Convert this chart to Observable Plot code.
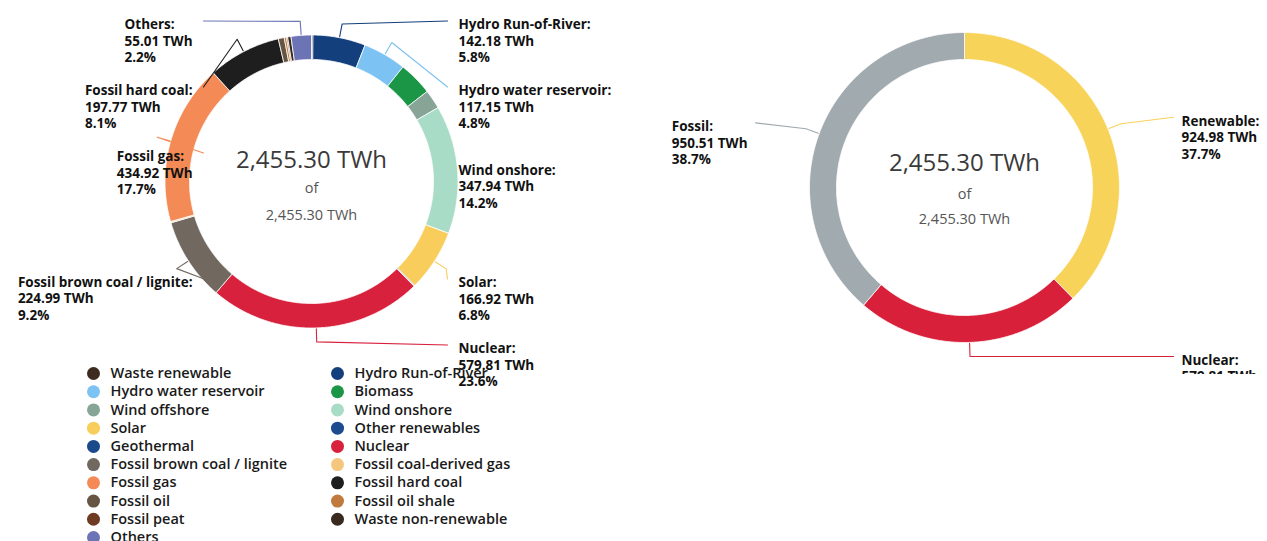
<!DOCTYPE html>
<html>
<head>
<meta charset="utf-8">
<script src="https://cdn.jsdelivr.net/npm/d3@7"></script>
<script src="https://cdn.jsdelivr.net/npm/@observablehq/plot@0.6"></script>
<style>
  body { margin: 0; background: #fff; }
  #root { position: relative; width: 1267px; height: 541px; overflow: hidden; background: #fff; }
  .panel { position: absolute; overflow: hidden; }
</style>
</head>
<body>
<div id="root"></div>
<script>
// ---------- DATA ----------
const categories = [
  "Waste renewable", "Hydro Run-of-River", "Hydro water reservoir", "Biomass",
  "Wind offshore", "Wind onshore", "Solar", "Other renewables", "Geothermal",
  "Nuclear", "Fossil brown coal / lignite", "Fossil coal-derived gas", "Fossil gas",
  "Fossil hard coal", "Fossil oil", "Fossil oil shale", "Fossil peat",
  "Waste non-renewable", "Others"
];
const values = [
  4.00, 142.18, 117.15, 92.00,
  52.00, 347.94, 166.92, 1.50, 1.29,
  579.81, 224.99, 3.50, 434.92,
  197.77, 16.00, 6.00, 3.30,
  9.02, 55.01
];
const colors = [
  "#3d2b1f", "#143f7d", "#7cc2f2", "#1b9647",
  "#87a597", "#a9dcc6", "#f8cd5c", "#1d4b8f", "#1a4a8c",
  "#d8213c", "#716960", "#f5c77e", "#f48a55",
  "#1e1e1e", "#675544", "#c07a3e", "#6e3b22",
  "#3a2a1e", "#6d74b6"
];
const labeledCategories = [
  "Hydro Run-of-River", "Hydro water reservoir", "Wind onshore", "Solar", "Nuclear",
  "Fossil brown coal / lignite", "Fossil gas", "Fossil hard coal", "Others"
];
const groups = ["Renewable", "Nuclear", "Fossil"];
const groupValues = [924.98, 579.81, 950.51];
const groupColors = ["#f8d35a", "#d9203a", "#a1aaae"];
const unit = "TWh";

// ---------- HELPERS ----------
const LABEL_SIZE = 13.5;
const LINE_PX = 16.5;
const LABEL_FONT = `bold ${LABEL_SIZE}px 'Open Sans'`;
const fmt2 = d3.format(",.2f");
const fmtPct = v => (Math.round(v * 10) / 10).toFixed(1);
const ctx = document.createElement("canvas").getContext("2d");
function textWidth(s, font) { ctx.font = font; return ctx.measureText(s).width; }
const rad = a => a * Math.PI / 180;
const pt = (a, r) => ({x: r * Math.sin(rad(a)), y: -r * Math.cos(rad(a))});

function donut(cfg) {
  const {names, vals, cols, labeled, width, height, cx, cy, R, inner, labelR,
         rightLabelX, leftLabelEdge, lineGap, centerDy, bigSize} = cfg;
  const total = d3.sum(vals);
  let acc = 0;
  const segs = names.map((n, i) => {
    const a0 = acc / total * 360; acc += vals[i]; const a1 = acc / total * 360;
    return {name: n, value: vals[i], color: cols[i], a0, a1, mid: (a0 + a1) / 2};
  });

  // ring polygons
  const ring = segs.flatMap(s => {
    const n = Math.max(2, Math.ceil((s.a1 - s.a0) / 0.5));
    const outer = d3.range(n + 1).map(k => ({...pt(s.a0 + (s.a1 - s.a0) * k / n, R), name: s.name, color: s.color}));
    const inn = d3.range(n, -1, -1).map(k => ({...pt(s.a0 + (s.a1 - s.a0) * k / n, inner), name: s.name, color: s.color}));
    return [...outer, ...inn, outer[0]];
  });

  // labels with simple collision avoidance
  const elbowR = R + 14;
  const lab = segs.filter(s => labeled.includes(s.name)).map(s => ({
    ...s, side: s.mid < 180 ? "right" : "left",
    ey: Math.max(-elbowR, Math.min(elbowR, pt(s.mid, labelR).y))
  }));
  const gap = 4 * LINE_PX;
  for (const side of ["right", "left"]) {
    const arr = lab.filter(d => d.side === side).sort((a, b) => a.ey - b.ey);
    let prev = -Infinity;
    for (const d of arr) { d.ly = Math.max(d.ey, prev + gap); prev = d.ly; }
  }
  const labels = lab.map(d => {
    const lines = [`${d.name}:`, `${fmt2(d.value)} ${unit}`, `${fmtPct(d.value / total * 100)}%`];
    const w = d3.max(lines, l => textWidth(l, LABEL_FONT));
    return {x: d.side === "right" ? rightLabelX : leftLabelEdge - w, y: d.ly - 3.4, text: lines.join("\n")};
  });
  const leaders = lab.flatMap(d => {
    const endX = d.side === "right" ? rightLabelX - lineGap : leftLabelEdge + lineGap;
    const p0 = pt(d.mid, R + 1), p1 = pt(d.mid, elbowR);
    if (d.side === "right" && p1.x > endX) return [];
    return [p0, p1, {x: endX, y: d.ly}].map(p => ({...p, name: d.name, color: d.color}));
  });

  const tot = [total];
  return Plot.plot({
    width, height,
    margin: 0,
    x: {domain: [-cx, width - cx], range: [0, width], axis: null},
    y: {domain: [-cy, height - cy], range: [0, height], axis: null},
    color: {type: "identity"},
    style: {fontFamily: "'Open Sans', sans-serif", background: "transparent", overflow: "visible"},
    marks: [
      Plot.line(ring, {x: "x", y: "y", z: "name", fill: "color", stroke: "#fff", strokeWidth: 0.8, curve: "linear"}),
      Plot.line(leaders, {x: "x", y: "y", z: "name", stroke: "color", strokeWidth: 1.1, curve: "linear"}),
      Plot.text(labels, {x: "x", y: "y", text: "text", textAnchor: "start", lineAnchor: "top",
        lineHeight: LINE_PX / LABEL_SIZE, fontSize: LABEL_SIZE, fontWeight: "bold", fill: "#111"}),
      Plot.text(tot, {x: () => 0, y: () => 0, dy: centerDy[0], text: d => `${fmt2(d)} ${unit}`,
        fontSize: bigSize, fontWeight: 400, fill: "#3a3a3a", lineAnchor: "middle"}),
      Plot.text(tot, {x: () => 0, y: () => 0, dy: centerDy[1], text: () => "of",
        fontSize: 14.5, fill: "#555", lineAnchor: "middle"}),
      Plot.text(tot, {x: () => 0, y: () => 0, dy: centerDy[2], text: d => `${fmt2(d)} ${unit}`,
        fontSize: 14.5, fill: "#555", lineAnchor: "middle"})
    ]
  });
}

const root = document.getElementById("root");
function place(node, left, top, w, h) {
  const div = document.createElement("div");
  div.className = "panel";
  Object.assign(div.style, {left: left + "px", top: top + "px", width: w + "px", height: h + "px"});
  div.appendChild(node);
  root.appendChild(div);
}

// Left donut
place(donut({
  names: categories, vals: values, cols: colors, labeled: labeledCategories,
  width: 640, height: 400, cx: 311, cy: 181, R: 146.5, inner: 122, labelR: 179,
  rightLabelX: 147, leftLabelEdge: -119, lineGap: 11, centerDy: [-21, 7, 34], bigSize: 24
}), 0, 0, 640, 400);

// Legend
const legendData = categories.map((name, i) => ({name, color: colors[i], col: i % 2, row: Math.floor(i / 2)}));
place(Plot.plot({
  width: 640, height: 186, margin: 0,
  x: {type: "linear", domain: [0, 1], range: [93, 337], axis: null},
  y: {type: "linear", domain: [0, 9], range: [18, 182], axis: null},
  color: {type: "identity"},
  style: {fontFamily: "'Open Sans', sans-serif", background: "transparent"},
  marks: [
    Plot.dot(legendData, {x: "col", y: "row", r: 6.5, fill: "color"}),
    Plot.text(legendData, {x: "col", y: "row", text: "name", dx: 17, textAnchor: "start",
      fontSize: 14.5, fontWeight: 600, fill: "#1a1a1a"})
  ]
}), 0, 355, 640, 186);

// Right donut (panel clipped at the bottom as in the original)
place(donut({
  names: groups, vals: groupValues, cols: groupColors, labeled: groups,
  width: 627, height: 374, cx: 324, cy: 187, R: 155, inner: 128, labelR: 186,
  rightLabelX: 217, leftLabelEdge: -217, lineGap: 8, centerDy: [-24, 7, 32], bigSize: 24
}), 640, 0, 627, 374);
</script>
</body>
</html>
